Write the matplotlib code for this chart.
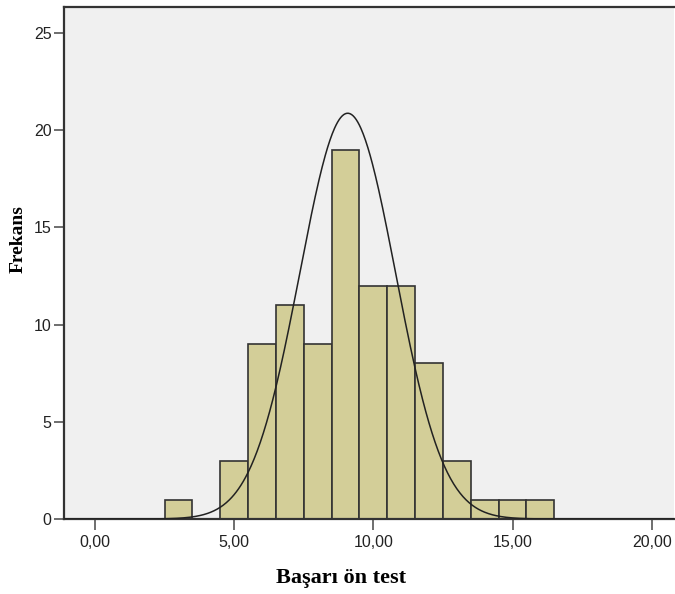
import numpy as np
import matplotlib
matplotlib.use("Agg")
import matplotlib.pyplot as plt

bin_left = [2.5, 3.5, 4.5, 5.5, 6.5, 7.5, 8.5, 9.5, 10.5, 11.5, 12.5, 13.5, 14.5, 15.5]
counts = [1, 0, 3, 9, 11, 9, 19, 12, 12, 8, 3, 1, 1, 1]
bin_width = 1.0
mean = 9.08
std = 1.72
n_total = 90
x_ticks = [0, 5, 10, 15, 20]
x_ticklabels = ["0,00", "5,00", "10,00", "15,00", "20,00"]
y_ticks = [0, 5, 10, 15, 20, 25]

fig = plt.figure(figsize=(6.75, 5.94), dpi=100)
ax = fig.add_axes([64/675, 75/594, 610/675, 512/594])
ax.set_facecolor("#F0F0F0")

for l, c in zip(bin_left, counts):
    if c > 0:
        ax.bar(l, c, width=bin_width, align="edge", color="#D3CE98",
               edgecolor="#333333", linewidth=1.2, zorder=2)

xs = np.linspace(-1.2, 21, 800)
ys = n_total * bin_width / (std * np.sqrt(2*np.pi)) * np.exp(-0.5*((xs-mean)/std)**2)
ax.plot(xs, ys, color="#222222", linewidth=1.1, zorder=3)

ax.set_xlim(-1.11, 20.8)
ax.set_ylim(0, 26.34)
ax.set_xticks(x_ticks)
ax.set_xticklabels(x_ticklabels)
ax.set_yticks(y_ticks)
for s in ["left", "bottom", "top"]:
    ax.spines[s].set_linewidth(1.6)
    ax.spines[s].set_color("#333333")
ax.spines["right"].set_visible(False)
ax.tick_params(axis="both", direction="out", length=8, width=1.2, color="#555555",
               labelsize=11.5, labelcolor="#222222")
ax.tick_params(axis="y", length=7, pad=2)
for t in ax.get_xticklabels() + ax.get_yticklabels():
    t.set_family("Liberation Sans")
ax.set_xlabel("Başarı ön test", family="Liberation Serif", fontweight="bold", fontsize=16)
ax.set_ylabel("Frekans", family="Liberation Serif", fontweight="bold", fontsize=14)
ax.xaxis.set_label_coords(0.454, -0.096)
ax.yaxis.set_label_coords(-0.062, 0.547)

fig.savefig("out.png", dpi=100)
